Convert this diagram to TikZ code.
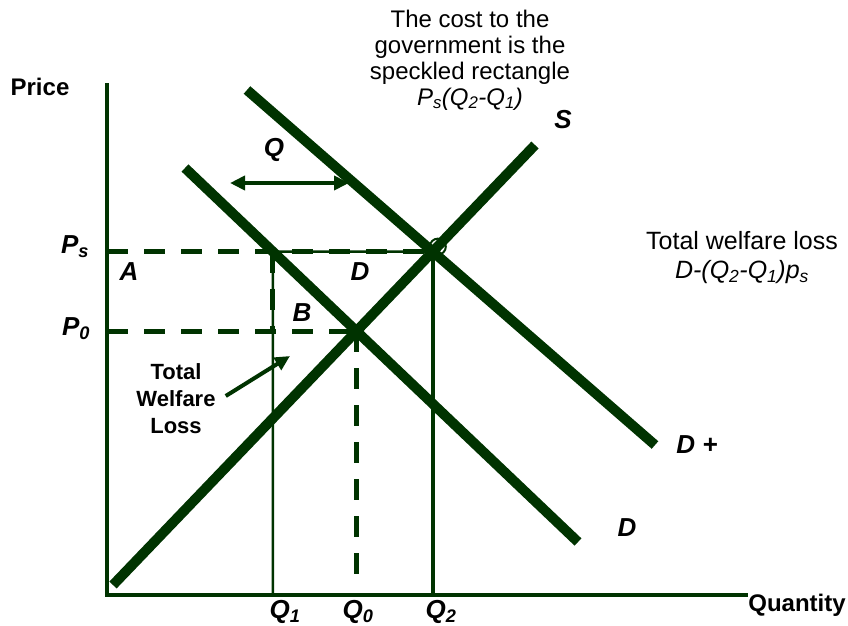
\documentclass[tikz,border=0pt]{standalone}
\usepackage{fontspec}
\setmainfont{Liberation Sans}
\usetikzlibrary{arrows.meta}
\definecolor{econgreen}{RGB}{0,51,0}
\tikzset{
  market/.style={line width=10pt, econgreen},
  axisline/.style={line width=4pt, econgreen},
  guide/.style={line width=5pt, econgreen, dash pattern=on 21pt off 16pt},
  rectline/.style={line width=2.5pt, econgreen},
  pointer/.style={line width=4pt, econgreen},
  lbl/.style={font=\fontsize{26}{30}\selectfont\bfseries\itshape, inner sep=0pt},
  axlbl/.style={font=\fontsize{24}{28}\selectfont\bfseries, inner sep=0pt},
  note/.style={font=\fontsize{24}{26}\selectfont, align=center, inner sep=0pt},
}

\begin{document}
\begin{tikzpicture}[x=1pt, y=-1pt, >={Triangle[length=15pt, width=14pt]}]
    \useasboundingbox (0,0) rectangle (848,625);

    % Axes corners
    \coordinate (O) at (107,595);
    \coordinate (Ptop) at (107,83);
    \coordinate (Qend) at (748,595);

    % Ends of supply, demand and shifted demand
    \coordinate (Slo) at (113,585);
    \coordinate (Shi) at (535,145);
    \coordinate (Dhi) at (185,168);
    \coordinate (Dlo) at (578,542);
    \coordinate (DPhi) at (247,90);
    \coordinate (DPlo) at (655,445);

    % Equilibria and the feet of the guide lines
    \coordinate (E0) at (intersection of Slo--Shi and Dhi--Dlo);
    \coordinate (E1) at (intersection of Slo--Shi and DPhi--DPlo);
    \coordinate (Ps) at (E1 -| O);
    \coordinate (P0) at (E0 -| O);
    \coordinate (Q1) at (intersection of Ps--E1 and Dhi--Dlo);
    \coordinate (Q1b) at (Q1 |- O);
    \coordinate (Q1m) at (Q1 |- E0);
    \coordinate (Q0b) at (E0 |- O);
    \coordinate (Q2b) at (E1 |- O);

    % The speckled rectangle and the dashed guides
    \draw[rectline] (Q1b) -- (Q1) -- (E1);
    \draw[axisline] (E1) -- (Q2b);
    \draw[guide] (Ps) -- (E1);
    \draw[guide] (P0) -- (E0);
    \draw[guide] (Q1) -- (Q1m);
    \draw[guide, shorten >=18pt] (E0) -- (Q0b);

    % Axes
    \draw[axisline] (Ptop) -- (O) -- (Qend);

    % Supply and demand
    \draw[market] (Slo) -- (Shi);
    \draw[market] (Dhi) -- (Dlo);
    \draw[market] (DPhi) -- (DPlo);

    % Open mark at the new equilibrium
    \node[circle, draw=econgreen, line width=2pt, minimum size=16pt, inner sep=0pt,
          xshift=5pt, yshift=5pt] (mark) at (E1) {};

    % Shift of demand
    \coordinate (qL) at (230,183);
    \coordinate (qR) at (349,183);
    \draw[pointer, <->] (qL) -- (qR);

    % Axis labels
    \node[axlbl] (price) at (40,87) {Price};
    \node[axlbl] (qty) at (797,605) {Quantity};
    \node[lbl] (ps) at (75,247) {P\textsubscript{s}};
    \node[lbl] (p0) at (76,329) {P\textsubscript{0}};
    \node[lbl] (q1) at (285,612) {Q\textsubscript{1}};
    \node[lbl] (q0) at (358,612) {Q\textsubscript{0}};
    \node[lbl] (q2) at (441,612) {Q\textsubscript{2}};

    % Curve and area labels
    \node[lbl] (slbl) at (563,120) {S};
    \node[lbl] (dplbl) at (697,445) {D +};
    \node[lbl] (dlbl) at (627,528) {D};
    \node[lbl] (qlbl) at (274,150) {Q};
    \node[lbl] (albl) at (129,272) {A};
    \node[lbl] (darea) at (360,272) {D};
    \node[lbl] (blbl) at (302,313) {B};

    % Notes
    \node[note] (cost) at (470,60) {The cost to the\\government is the\\speckled rectangle\\
        \textit{P\textsubscript{s}(Q\textsubscript{2}-Q\textsubscript{1})}};
    \node[note, font=\fontsize{25}{29}\selectfont] (wloss) at (742,258) {Total welfare loss\\
        \textit{D-(Q\textsubscript{2}-Q\textsubscript{1})p\textsubscript{s}}};
    \node[align=center, inner sep=0pt, font=\fontsize{22}{27}\selectfont\bfseries]
        (twl) at (176,399) {Total\\Welfare\\Loss};
    \coordinate (twlTip) at (290,356);
    \draw[pointer, ->] ([xshift=10pt, yshift=3pt]twl.east) -- (twlTip);
\end{tikzpicture}
\end{document}
